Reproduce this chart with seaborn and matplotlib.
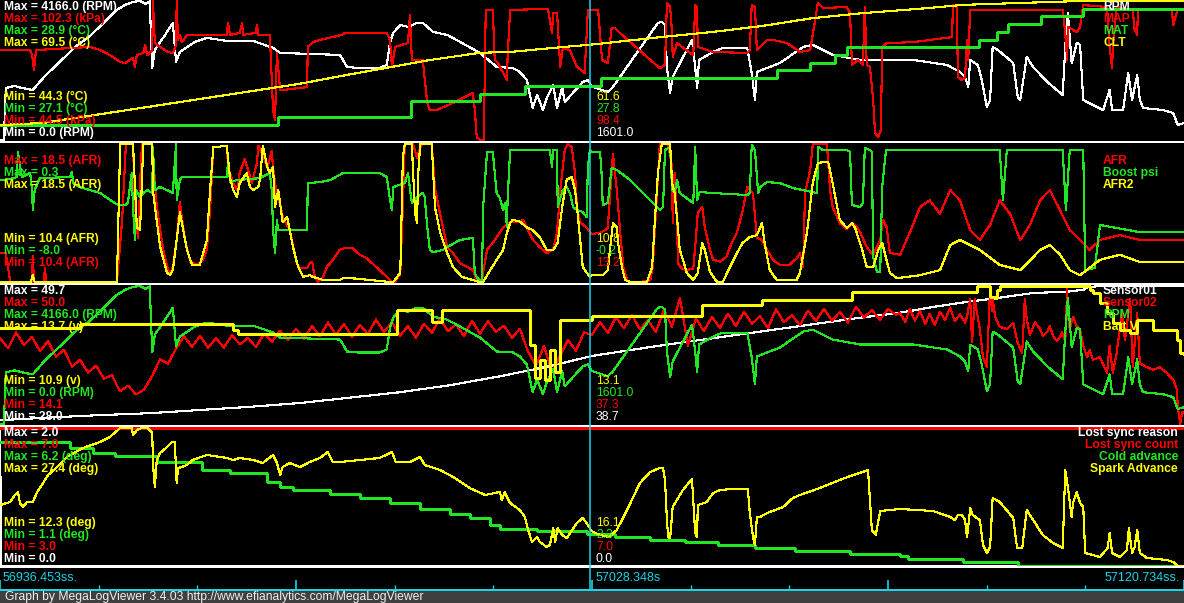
import numpy as np
import matplotlib
matplotlib.use("Agg")
import matplotlib.pyplot as plt
from matplotlib.lines import Line2D
import seaborn as sns

# ---------------------------------------------------------------- time span
T_START = 56936.453
T_END = 57120.734
T_CURSOR = 57028.348
DUR = T_END - T_START

# ---------------------------------------------------------------- panel 1
rpm_t = [0.0, 0.6, 0.9, 2.3, 3.4, 5.1, 7.0, 9.3, 11.7, 14.0, 16.3, 18.2, 19.5, 20.7, 21.8, 22.7, 23.3, 23.7,
         24.1, 25.7, 26.9, 27.4, 28.0, 30.3, 32.2, 35.3, 39.4, 42.5, 43.6, 52.9, 53.2, 54.0, 55.6, 59.1, 60.2,
         60.7, 61.2, 62.3, 63.5, 64.9, 65.8, 67.4, 69.6, 71.6, 74.7, 77.3, 79.8, 80.9, 82.0, 82.9, 83.6, 84.5,
         85.1, 86.1, 86.7, 87.5, 87.9, 90.7, 91.5, 92.1, 94.6, 95.4, 102.4, 103.0, 103.5, 103.8, 104.3, 104.7,
         107.7, 108.2, 108.5, 108.8, 111.0, 112.5, 116.3, 117.0, 117.5, 117.8, 121.4, 125.0, 126.5, 129.6,
         133.9, 142.1, 147.4, 149.4, 150.2, 150.7, 151.0, 152.2, 152.8, 153.6, 154.1, 154.5, 155.3, 157.7,
         158.4, 158.8, 159.8, 160.8, 163.0, 165.4, 165.8, 166.2, 166.8, 167.6, 168.1, 168.6, 170.7, 171.7,
         172.7, 173.1, 174.8, 175.6, 176.2, 177.0, 177.4, 177.9, 181.0, 182.6, 183.3, 184.3]
rpm_v = [0, 0, 1560, 1620, 1560, 1500, 1920, 2340, 2790, 3120, 3540, 3900, 4050, 4140, 4166, 4080, 4160, 2160,
         2700, 3150, 3510, 2340, 2640, 2940, 3060, 2970, 2970, 2760, 2610, 2550, 2460, 2190, 2160, 2160, 2250,
         2910, 3210, 3450, 3390, 3510, 3510, 3240, 3150, 2940, 2610, 2190, 2160, 2040, 1800, 960, 1350, 900,
         1260, 1650, 960, 1590, 1140, 1740, 1800, 1601, 1440, 1590, 3510, 3540, 3450, 2190, 1410, 1890,
         3000, 2190, 1560, 2400, 2640, 2760, 2760, 2010, 1200, 2040, 2310, 2790, 2850, 2550,
         2400, 2400, 2250, 2040, 1890, 1590, 2400, 2250, 1800, 990, 1200, 2790, 2700, 2310,
         1290, 1200, 2490, 2190, 1740, 1350, 2790, 3810, 2310, 2910, 2850, 1200, 990, 900,
         1500, 900, 900, 2010, 1200, 1950, 1200, 960, 900, 810, 450, 510]

map_t = [0.0, 4.7, 5.0, 5.3, 5.6, 14.0, 15.6, 17.1, 18.7, 19.5, 20.7, 21.0, 21.3, 22.3, 22.6, 22.9, 23.7, 23.8,
         24.1, 24.9, 26.1, 26.9, 27.4, 27.5, 27.7, 28.0, 28.3, 29.1, 35.3, 35.5, 35.8, 37.3, 37.7, 37.8, 39.8,
         40.0, 40.2, 42.0, 42.5, 42.8, 43.1, 43.6, 44.0, 47.8, 47.9, 48.7, 49.8, 53.2, 53.7, 60.2, 60.7, 61.0,
         61.5, 63.5, 63.8, 64.1, 65.8, 66.5, 66.9, 68.0, 70.5, 73.6, 73.9, 74.2, 74.7, 75.3, 75.6, 76.7, 77.0,
         77.5, 78.9, 79.0, 79.4, 85.3, 85.9, 86.1, 86.7, 87.2, 87.6, 88.7, 89.8, 91.0, 91.5, 93.1, 93.7, 94.6,
         95.2, 95.7, 96.5, 100.7, 102.7, 103.5, 103.8, 104.3, 104.6, 104.7, 105.4, 107.4, 107.9, 108.2, 108.5,
         108.6, 111.0, 116.3, 116.7, 117.0, 117.5, 117.8, 119.4, 120.3, 122.5, 124.5, 126.1, 127.3, 128.1,
         131.8, 132.3, 132.6, 133.5, 134.3, 134.6, 134.9, 135.4, 135.9, 136.2, 136.7, 137.1, 137.3, 138.0,
         142.1, 144.7, 148.2, 148.3, 148.9, 149.1, 149.7, 150.2, 150.5, 150.7, 151.0, 165.4, 165.8, 166.1,
         166.2, 167.6, 168.1, 168.6, 172.3, 172.7, 173.1, 173.2, 173.8, 176.3, 176.6, 177.0, 177.1, 182.4,
         182.6, 182.9, 183.3, 184.3]
map_v = [81.9, 81.9, 79.8, 73.6, 81.9, 83.2, 81.9, 79.8, 76.9, 76.5, 78.6, 74.9, 79.8, 80.7, 84.0, 79.8, 81.9, 102.3,
         84.8, 83.2, 81.1, 80.7, 84.0, 102.3, 86.1, 88.2, 85.2, 88.2, 88.2, 93.1, 88.2, 89.0, 93.1, 88.2, 89.0,
         92.3, 88.2, 88.2, 57.0, 52.8, 80.7, 65.3, 65.3, 66.5, 83.2, 85.2, 86.1, 88.2, 89.0, 89.0, 86.1, 74.9,
         83.2, 84.8, 96.5, 77.8, 77.8, 59.9, 57.0, 57.0, 59.9, 64.0, 57.0, 45.7, 44.5, 44.5, 98.6, 98.6, 77.8,
         76.5, 69.4, 78.6, 98.6, 99.0, 89.0, 97.3, 97.3, 74.9, 82.8, 81.9, 74.9, 72.4, 98.4, 98.4, 77.8, 76.5,
         91.1, 91.1, 89.0, 79.0, 74.4, 75.7, 101.5, 99.8, 89.0, 79.0, 84.8, 80.7, 79.8, 100.6, 99.8,
         83.2, 81.1, 80.7, 81.9, 100.6, 99.8, 81.9, 86.1, 86.1, 84.8, 81.1, 81.9, 101.5, 99.4,
         99.8, 97.3, 75.7, 77.8, 75.7, 99.8, 75.7, 74.9, 61.1, 47.4, 45.7, 48.7, 83.2, 84.8,
         85.2, 86.1, 87.3, 100.6, 99.8, 70.7, 69.4, 70.3, 86.1, 77.8, 98.6, 98.6, 89.0, 77.8,
         91.5, 89.4, 91.5, 100.6, 99.8, 83.2, 74.4, 83.2, 99.8, 98.6, 90.2, 88.2, 98.6, 98.6,
         92.3, 95.2, 98.6, 98.6]

mat_t = [0.0, 43.3, 64.0, 74.7, 81.7, 93.5, 120.9, 126.1, 130.0, 131.8, 152.4, 155.2, 156.9, 162.0, 168.6, 184.3]
mat_v = [27.3, 27.4, 27.6, 27.7, 27.8, 27.9, 28.0, 28.1, 28.2, 28.3, 28.4, 28.5, 28.6, 28.7, 28.8, 28.8]

clt_t = [0.0, 6.7, 46.7, 54.0, 60.7, 66.9, 74.7, 79.8, 86.1, 92.1, 103.2, 111.0, 118.8, 126.5, 134.3, 143.2,
         149.9, 157.7, 168.1, 184.3]
clt_v = [47.0, 47.4, 54.5, 56.1, 57.5, 58.8, 60.1, 60.3, 61.0, 61.6, 63.0, 63.9, 65.0, 66.4, 67.3, 68.1,
         68.8, 69.1, 69.5, 69.5]

# ---------------------------------------------------------------- panel 2
afr_t = [0.0, 0.9, 1.6, 5.0, 5.1, 5.3, 6.8, 7.0, 7.2, 18.2, 19.0, 19.6, 20.7, 21.0, 21.3, 21.5, 21.9, 22.1, 23.7,
         24.4, 25.4, 26.0, 26.5, 26.9, 27.5, 28.0, 28.3, 28.8, 29.6, 30.7, 31.6, 32.2, 32.7, 33.2, 35.3, 35.5,
         36.3, 36.9, 37.3, 38.1, 38.6, 39.2, 40.0, 40.2, 40.9, 41.6, 42.3, 42.5, 43.1, 43.6, 44.0, 45.1, 46.2,
         46.7, 47.8, 48.2, 48.6, 48.7, 49.0, 49.5, 50.3, 50.9, 51.8, 52.9, 53.7, 54.8, 56.0, 57.1, 57.9, 59.1,
         60.2, 61.0, 61.5, 62.3, 62.7, 63.0, 64.3, 64.9, 65.4, 65.8, 67.2, 67.7, 68.5, 69.6, 70.5, 71.6, 72.7,
         73.6, 74.2, 74.7, 75.0, 75.8, 76.7, 77.8, 78.3, 79.4, 80.5, 81.4, 82.0, 82.9, 84.0, 85.1, 86.1, 86.7,
         87.2, 87.9, 88.4, 89.0, 89.5, 89.8, 90.3, 91.3, 92.1, 93.4, 94.2, 94.6, 95.4, 96.0, 96.5, 97.0, 97.6,
         98.1, 99.6, 101.2, 101.6, 102.7, 104.0, 104.6, 104.7, 105.0, 105.4, 105.5, 106.1, 106.9, 107.9,
         108.2, 108.6, 109.3, 109.7, 110.5, 111.0, 112.1, 113.1, 113.6, 114.7, 115.6, 116.3, 117.2, 117.8,
         118.6, 119.4, 120.3, 121.4, 122.9, 124.0, 124.5, 125.0, 125.3, 126.1, 126.5, 128.7, 129.2, 129.6,
         130.3, 130.7, 131.8, 132.8, 133.4, 133.9, 134.9, 135.9, 137.0, 137.4, 138.0, 138.5, 140.1, 141.6,
         143.2, 144.7, 146.3, 147.9, 149.4, 151.0, 152.5, 154.1, 155.6, 157.2, 158.8, 160.3, 161.9, 163.4,
         165.0, 166.5, 168.1, 169.6, 171.2, 174.3, 177.4, 184.3]
afr_v = [12.1, 12.1, 10.4, 10.4, 11.9, 10.4, 10.4, 11.2, 10.4, 10.4, 14.0, 18.5, 18.5, 15.0, 13.6, 13.0, 17.0, 18.5, 18.5,
         14.8, 12.3, 11.3, 10.8, 11.3, 12.9, 15.1, 14.2, 12.9, 11.6, 11.4, 11.7, 12.3, 14.6, 18.3, 18.4, 17.1,
         16.2, 15.8, 16.8, 17.6, 17.0, 16.2, 17.4, 18.4, 17.9, 17.1, 18.1, 17.1, 15.4, 15.0, 14.2, 13.45, 11.5,
         11.2, 11.2, 11.5, 11.6, 11.3, 10.7, 10.4, 10.7, 11.3, 11.7, 12.3, 12.4, 12.4, 12.0, 11.8, 11.5, 11.1,
         10.7, 10.4, 10.4, 10.9, 14.8, 18.5, 18.5, 17.7, 18.3, 18.5, 18.5, 15.9, 14.4, 12.45, 12.1, 11.5, 11.3,
         11.1, 10.5, 10.4, 10.5, 12.3, 12.7, 13.3, 13.6, 13.9, 13.9, 14.05, 13.6, 12.9, 12.45, 12.1, 12.3, 13.3,
         15.8, 18.15, 18.5, 18.3, 16.8, 14.8, 13.9, 13.6, 13.2, 13.3, 13.45, 13.6, 17.9, 15.8, 13.45, 11.3, 10.5,
         10.4, 10.4, 10.5, 11.3, 18.5, 18.5, 17.15, 13.86, 16.8, 13.86, 11.5, 11.2, 11.1, 11.2,
         12.45, 14.45, 14.8, 13.6, 12.28, 11.7, 11.6, 11.9, 12.45, 13.3, 14.6, 15.98, 15.62, 13.0,
         12.87, 12.28, 11.7, 11.4, 11.4, 11.8, 12.1, 11.28, 15.62, 16.97, 18.5, 18.5, 15.8, 14.8,
         14.2, 13.86, 13.5, 13.86, 13.6, 13.3, 12.45, 11.97, 12.87, 14.05, 13.6, 12.1, 12.0, 13.3,
         14.8, 15.2, 14.4, 15.8, 15.2, 13.45, 12.87, 13.75, 15.2, 14.4, 12.87, 13.75, 15.2, 15.8,
         14.6, 13.45, 12.87, 12.28, 12.87, 13.15, 12.87, 12.87]

afr2_t = [0.0, 4.8, 5.1, 5.4, 18.2, 18.7, 20.7, 21.3, 21.8, 22.3, 23.7, 23.8, 24.9, 26.0, 26.5, 26.9, 27.5, 28.0,
          29.1, 29.9, 31.1, 32.2, 32.7, 33.2, 35.3, 35.8, 36.3, 36.9, 37.3, 38.4, 38.9, 39.4, 40.2, 40.5, 40.9,
          41.6, 42.0, 42.5, 42.8, 43.3, 44.0, 44.7, 45.6, 46.4, 47.2, 48.2, 48.7, 50.3, 52.9, 53.4, 54.5, 60.7,
          61.2, 62.3, 62.7, 63.0, 64.1, 64.3, 64.6, 64.9, 65.1, 65.4, 67.2, 67.7, 68.5, 69.6, 70.5, 71.9, 73.6,
          74.7, 75.2, 76.3, 77.3, 78.3, 78.9, 79.4, 79.8, 80.9, 82.0, 82.9, 84.0, 85.1, 86.1, 86.8, 87.5, 88.2,
          89.0, 89.5, 89.9, 90.7, 91.8, 92.1, 93.8, 94.6, 95.4, 96.0, 96.2, 96.8, 97.3, 98.1, 100.7, 101.5,
          101.9, 102.4, 103.0, 104.3, 104.6, 105.0, 105.4, 105.8, 106.3, 106.9, 107.9, 108.6, 109.3, 109.7,
          110.5, 111.6, 112.5, 113.6, 114.7, 115.6, 116.7, 117.8, 118.6, 119.0, 119.8, 120.9, 124.0, 124.5,
          125.6, 126.5, 127.3, 128.9, 129.6, 130.3, 130.7, 131.8, 132.6, 133.1, 134.2, 134.9, 135.9, 136.7,
          137.3, 137.7, 138.5, 139.6, 143.2, 146.3, 147.9, 149.4, 152.5, 155.6, 158.8, 161.9, 163.4, 165.0,
          166.5, 168.1, 171.2, 174.3, 177.4, 184.3]
afr2_v = [10.4, 10.4, 10.8, 10.4, 10.4, 18.5, 18.5, 13.6, 13.45, 18.5, 18.5, 15.8, 12.5, 10.93, 10.8, 11.1, 12.87, 14.5,
          12.28, 11.4, 11.4, 12.87, 15.8, 18.3, 18.4, 16.5, 15.8, 15.4, 16.2, 16.8, 15.98, 15.8, 15.98, 16.5, 18.4,
          17.15, 16.8, 17.15, 14.8, 15.8, 13.9, 14.2, 12.45, 11.28, 10.7, 10.8, 10.7, 10.52, 10.52, 10.63, 10.63, 10.4,
          10.4, 10.93, 17.7, 18.5, 18.5, 16.8, 14.45, 13.86, 16.8, 18.5, 18.5, 14.8, 13.3, 12.1, 11.28, 10.7, 10.52,
          10.4, 10.4, 11.1, 11.7, 12.28, 13.3, 13.86, 14.05, 13.95, 13.6, 13.45, 13.04, 12.28, 12.28, 12.7, 14.8, 16.4,
          16.56, 15.8, 14.45, 11.28, 10.7, 10.8, 10.8, 11.1, 13.86, 13.6, 12.7, 11.28, 10.52, 10.4, 10.4, 11.28,
          13.86, 16.8, 18.5, 18.5, 16.2, 15.62, 14.05, 12.28, 11.7, 10.93, 10.52, 10.93, 12.7, 12.28,
          11.0, 10.4, 10.4, 11.28, 12.1, 12.7, 13.04, 13.15, 13.86, 12.7, 11.1, 10.52, 10.52, 10.93,
          13.3, 16.2, 17.4, 17.45, 16.2, 14.8, 14.05, 13.57, 13.86, 13.57, 12.28, 11.28, 11.28, 12.28,
          12.7, 12.1, 10.93, 10.63, 10.8, 11.1, 12.57, 12.87, 12.28, 11.4, 11.1, 12.28, 12.57, 12.0,
          11.1, 10.8, 11.7, 12.0, 11.57, 11.57]

boost_t = [0.0, 1.6, 2.6, 2.8, 3.1, 3.4, 4.7, 5.0, 5.1, 5.4, 6.2, 10.9, 11.2, 11.4, 12.4, 15.6, 17.6, 18.4, 19.5,
           19.9, 20.5, 20.7, 21.0, 21.2, 21.8, 22.3, 22.9, 23.7, 23.8, 24.1, 24.9, 26.0, 26.9, 27.4, 27.5, 28.0,
           28.3, 35.3, 35.5, 35.8, 36.9, 40.5, 42.0, 42.3, 42.5, 42.8, 43.1, 43.3, 47.8, 47.9, 49.8, 51.4, 53.4,
           59.1, 60.2, 60.7, 61.0, 61.2, 63.0, 63.5, 64.1, 64.9, 65.8, 66.1, 66.5, 66.9, 67.4, 68.9, 69.6, 71.6,
           73.6, 73.9, 74.2, 75.0, 75.2, 75.8, 76.7, 77.3, 77.8, 78.3, 78.6, 78.9, 79.0, 79.4, 85.6, 85.9, 86.1,
           86.7, 86.8, 87.6, 88.2, 88.7, 89.2, 89.8, 90.7, 91.3, 91.5, 91.8, 92.1, 93.4, 93.7, 93.8, 94.6, 95.2,
           96.0, 98.1, 100.7, 102.7, 103.2, 103.5, 104.3, 104.6, 105.0, 105.4, 105.8, 107.9, 108.2, 108.5,
           108.9, 111.0, 116.3, 116.7, 117.0, 117.5, 118.0, 118.3, 119.4, 121.4, 123.4, 126.5, 127.2, 127.3,
           128.1, 131.8, 132.3, 132.6, 133.9, 134.3, 134.6, 135.4, 135.7, 135.9, 136.5, 137.0, 137.3, 137.9,
           155.6, 156.1, 156.7, 165.4, 165.9, 166.5, 168.6, 168.9, 170.4, 171.2, 177.4, 184.3]
boost_v = [-1.87, -1.81, -1.69, -0.18, -0.97, -1.69, -1.44, -2.47, -3.67, -2.47, -1.75, -1.69, -1.38, -2.05, -2.29,
           -2.65, -3.19, -3.37, -3.37, -3.25, -1.44, -3.49, -5.47, -2.47, -2.89, -2.65, -2.47, -2.65, 0.12, -2.47,
           -2.29, -2.47, -2.65, 0.3, -3.07, -1.87, -1.69, -1.69, -0.66, -1.99, -1.87, -1.75, -1.44, -2.47, -4.87,
           -6.26, -4.27, -4.87, -4.87, -2.05, -1.99, -1.87, -1.44, -1.44, -1.69, -3.07, -3.67, -2.29, -2.05, -1.44,
           -3.25, -2.89, -2.65, -2.89, -4.69, -6.08, -6.2, -6.08, -5.9, -5.47, -5.35, -7.46, -7.7, -8.0, -3.49,
           -0.18, -0.18, -2.65, -2.95, -3.67, -3.25, -4.69, -3.07, -0.06, -0.06, -1.08, -0.06, -0.06, -3.49, -2.47,
           -2.29, -2.65, -3.49, -3.67, -3.79, -4.09, -1.08, -0.06, -0.2, -0.18, -1.87, -3.37, -3.25, -1.14, -1.26,
           -1.87, -2.89, -3.67, -3.49, -0.06, 0.12, -2.47, -2.59, -1.87, -2.65, -3.25, 0.12, -3.07, -2.59, -2.65,
           -2.77, -2.65, 0.24, -0.06, -2.65, -2.29, -1.99, -2.05, -2.35, -2.59, -2.65, 0.12, -0.06, -0.06, -0.18,
           -3.37, -3.49, -3.25, 0.06, -0.06, -0.18, -6.5, -7.4, -7.4, -2.29, -0.06, -0.06, -3.07, -0.06, -0.06,
           -3.67, -0.06, -0.06, -7.28, -7.16, -4.57, -5.0, -5.0]

# ---------------------------------------------------------------- panel 3
s1_t = [0.0, 9.3, 15.6, 23.3, 31.1, 38.9, 46.7, 62.3, 70.0, 77.8, 85.6, 92.1, 101.2, 108.9, 116.7, 124.5, 132.3,
        140.1, 145.2, 150.5, 155.2, 160.8, 166.1, 168.6, 169.3, 171.2, 184.3]
s1_v = [28.6, 29.1, 29.4, 29.7, 30.2, 30.7, 31.3, 33.0, 34.1, 35.5, 37.1, 38.7, 40.1, 41.2, 42.3, 43.4, 44.5,
        45.5, 46.4, 47.2, 47.8, 48.6, 48.8, 49.1, 49.5, 49.7, 49.7]

# Sensor02, first part logged at a steady 1.245 s interval
s2_dt = 1.245
s2_head_v = [36.5, 33.8, 37.9, 34.6, 36.8, 33.0, 35.7, 31.6, 33.4, 29.0, 30.8, 27.5, 29.3, 25.9, 26.8, 22.6, 24.1,
             21.8, 23.0, 26.5, 30.9, 29.8, 33.7, 36.9, 34.2, 37.0, 33.9, 36.4, 34.0, 37.2, 34.8, 36.5, 34.1, 37.6,
             35.5, 38.4, 36.0, 38.9, 36.3, 39.6, 36.9, 40.5, 37.4, 40.1, 36.8, 39.9, 37.5, 41.3, 38.0, 40.6, 37.1,
             39.5, 36.6, 40.2, 37.8, 41.6, 38.2, 40.0, 37.0, 41.0, 37.6, 40.8, 38.1, 39.7, 36.5, 38.9, 33.0, 29.2,
             34.5, 27.6, 31.8, 35.9, 33.2, 37.9, 37.3, 40.6, 37.8, 41.9, 39.0, 42.5, 38.7, 41.2, 38.0, 43.8, 39.4,
             46.9, 34.5, 41.5, 38.3, 42.0, 39.1, 42.8, 39.6, 43.3, 40.2, 42.1, 39.0, 43.9, 40.6, 42.4, 39.8, 43.6,
             40.9, 44.1, 41.0, 43.2, 40.5, 44.6, 41.8, 43.7, 41.2, 44.0, 42.5]
s2_tail_t = [140.1, 140.9, 141.6, 142.4, 143.2, 144.0, 144.7, 145.5, 146.3, 147.1, 147.9, 148.6, 149.4, 150.2,
             150.5, 151.0, 151.3, 151.7, 152.5, 153.0, 153.6, 154.1, 154.4, 154.5, 154.9, 155.3, 155.6, 156.7,
             157.7, 158.4, 159.1, 159.5, 159.8, 160.3, 160.8, 161.1, 161.9, 162.3, 163.0, 163.4, 163.9, 164.5,
             165.0, 165.3, 165.8, 166.1, 166.2, 166.5, 167.0, 167.6, 168.1, 168.6, 169.2, 169.6, 170.1, 171.2,
             172.3, 172.7, 173.2, 173.8, 174.6, 175.1, 175.9, 176.3, 177.0, 177.4, 178.5, 179.5, 180.5, 181.6,
             182.6, 183.2, 183.3, 183.7, 184.0, 184.3]
s2_tail_v = [43.0, 40.6, 44.1, 41.0, 43.6, 40.2, 42.8, 39.9, 43.3, 41.2, 44.4, 40.8, 42.6, 40.5,
             42.0, 46.6, 35.3, 46.6, 38.8, 31.5, 28.9, 49.7, 43.5, 46.6, 42.0, 40.4, 39.4, 38.8,
             40.4, 35.2, 32.6, 46.6, 41.4, 37.2, 39.4, 40.5, 38.8, 37.0, 38.1, 39.5, 37.1, 35.6,
             36.8, 38.0, 35.5, 49.7, 43.0, 38.8, 42.0, 39.4, 38.8, 34.4, 31.5, 33.4, 30.8, 31.5,
             27.4, 34.4, 27.4, 32.6, 43.0, 36.0, 46.6, 28.9, 43.0, 29.9, 28.9, 28.2, 28.9, 27.4,
             25.6, 23.0, 18.6, 14.1, 17.2, 17.0]

batt_t = [0.0, 12.4, 36.3, 37.0, 61.5, 61.8, 66.9, 67.2, 68.5, 68.8, 81.7, 82.5, 83.3, 84.0, 84.8, 85.6, 86.4,
          87.2, 92.1, 108.9, 109.3, 118.3, 118.6, 132.3, 132.6, 151.7, 152.0, 153.8, 154.1, 154.9, 155.2, 155.6,
          169.2, 169.6, 170.1, 171.2, 172.3, 173.2, 174.3, 175.9, 177.0, 179.0, 179.5, 182.6, 183.2, 183.7, 184.3]
batt_v = [12.85, 12.93, 12.81, 12.73, 12.73, 13.21, 13.21, 12.97, 12.97, 13.21, 13.21, 12.5, 11.83, 12.2, 11.79,
          12.4, 11.96, 13.01, 13.1, 13.1, 13.31, 13.31, 13.42, 13.42, 13.58, 13.58, 13.7, 13.7, 13.48, 13.46,
          13.62, 13.7, 13.7, 13.62, 13.56, 13.36, 13.15, 12.95, 12.81, 12.75, 13.01, 13.01, 12.81, 12.81, 12.6,
          12.34, 12.3]

# ---------------------------------------------------------------- panel 4
reason_t = [0.0, 0.2, 184.3]
reason_v = [2.0, 0.0, 0.0]
count_t = [0.0, 184.3]
count_v = [7.0, 7.0]

cold_t = [0.0, 10.9, 14.5, 17.9, 24.4, 31.4, 35.8, 41.6, 43.6, 45.6, 51.4, 56.0, 60.7, 65.4, 70.0, 73.1, 76.3,
          77.8, 83.6, 91.3, 95.7, 101.2, 106.6, 111.8, 117.5, 123.7, 132.3, 140.1, 141.3, 149.9, 158.4, 184.3]
cold_v = [5.68, 5.46, 5.28, 5.17, 4.94, 4.65, 4.54, 4.2, 4.02, 3.91, 3.76, 3.61, 3.43, 3.21, 3.02, 2.87, 2.62,
          2.47, 2.39, 2.28, 2.17, 2.06, 1.99, 1.88, 1.77, 1.65, 1.56, 1.47, 1.36, 1.25, 1.1, 1.1]

spark_t = [0.0, 1.6, 2.3, 2.8, 3.1, 3.6, 4.2, 5.1, 5.8, 6.7, 7.5, 8.9, 10.4, 12.9, 15.6, 17.1, 18.7, 19.8, 20.5,
           20.7, 21.3, 22.1, 23.0, 23.7, 23.8, 24.1, 24.4, 24.9, 26.0, 26.8, 27.2, 27.5, 27.7, 28.3, 29.1, 30.0,
           32.2, 34.2, 35.3, 36.3, 37.3, 39.4, 40.9, 42.5, 43.1, 43.6, 44.0, 45.1, 46.7, 48.2, 49.8, 51.0, 51.8,
           52.9, 56.0, 59.1, 61.0, 61.6, 63.8, 65.4, 66.1, 68.5, 70.8, 73.1, 75.5, 77.8, 78.1, 78.6, 78.9, 79.4,
           80.9, 81.7, 82.2, 82.8, 83.6, 84.0, 85.1, 85.6, 86.1, 86.4, 86.8, 87.5, 88.2, 89.8, 90.7, 91.3, 92.1,
           93.4, 94.9, 96.0, 97.6, 99.6, 101.2, 102.7, 103.2, 103.5, 103.8, 104.0, 104.3, 104.7, 106.3, 107.7,
           108.2, 108.5, 108.6, 110.0, 111.0, 112.1, 114.1, 116.4, 116.7, 117.2, 117.5, 117.8, 118.3, 119.4,
           121.9, 123.4, 124.5, 127.6, 131.5, 134.2, 135.1, 135.7, 136.3, 137.0, 140.1, 145.2, 147.9, 148.6,
           149.1, 149.7, 150.2, 150.5, 150.7, 151.0, 151.4, 152.5, 153.0, 153.6, 154.1, 154.5, 155.6, 157.7,
           158.3, 159.1, 159.8, 160.8, 162.3, 163.9, 165.4, 165.8, 166.2, 166.8, 167.0, 167.6, 168.1, 168.6,
           168.9, 170.1, 171.2, 172.4, 172.7, 173.1, 174.3, 175.4, 175.7, 176.2, 176.6, 177.0, 177.4, 178.5,
           181.6, 182.6, 183.3, 184.3]
spark_v = [18.97, 19.3, 20.07, 20.4, 19.19, 18.76, 19.3, 19.3, 20.4, 21.38, 22.26, 23.13, 24.23, 25.21, 25.87,
           26.42, 27.4, 27.4, 27.4, 26.63, 27.18, 27.4, 27.4, 26.85, 23.57, 20.94, 23.9, 24.66, 25.32, 25.87,
           25.87, 21.38, 23.02, 23.13, 23.35, 23.9, 24.45, 24.23, 24.12, 23.9, 24.12, 23.9, 23.57, 24.45, 23.57,
           22.26, 23.13, 23.57, 23.13, 23.68, 24.12, 24.77, 23.68, 23.68, 23.9, 24.12, 24.77, 23.68, 23.68, 24.23,
           23.35, 22.8, 21.93, 20.83, 20.07, 20.4, 19.52, 20.4, 19.85, 19.19, 18.43, 17.66, 16.24, 14.93, 15.47,
           14.93, 14.38, 14.6, 16.46, 14.93, 16.46, 15.69, 15.36, 17.01, 17.55, 17.01, 16.1, 15.69, 15.47, 16.24,
           18.43, 21.38, 22.59, 23.02, 23.02, 21.71, 17.33, 15.47, 15.36, 18.76, 20.62, 21.82, 15.91, 15.47,
           18.97, 19.3, 20.29, 20.62, 20.73, 20.73, 18.1, 15.47, 14.6, 17.66, 17.66, 18.1, 18.76, 19.74, 20.07,
           20.83, 21.93, 22.59, 22.8, 16.24, 15.69, 18.32, 18.54, 18.32, 17.66, 17.33, 17.88, 17.88, 17.33,
           15.47, 16.57, 18.65, 17.88, 17.33, 14.6, 13.72, 14.38, 19.74, 19.3, 17.55, 14.27, 14.27, 18.43,
           17.33, 15.69, 14.82, 14.27, 22.8, 20.94, 17.66, 19.19, 20.4, 19.19, 18.76, 13.72, 13.5, 13.28,
           14.27, 15.91, 13.72, 13.28, 14.05, 16.46, 13.72, 14.38, 16.24, 13.72, 13.18, 12.96, 12.74, 12.3, 12.3]

# ---------------------------------------------------------------- labels
p1_names = ["RPM", "MAP", "MAT", "CLT"]
p1_units = [" (RPM)", " (kPa)", " (\u00b0C)", " (\u00b0C)"]
p1_min = [0.0, 44.5, 27.1, 44.3]
p1_max = [4166.0, 102.3, 28.9, 69.5]
p1_cursor = [1601.0, 98.4, 27.8, 61.6]

p2_names = ["AFR", "Boost psi", "AFR2"]
p2_units = [" (AFR)", "", " (AFR)"]
p2_min = [10.4, -8.0, 10.4]
p2_max = [18.5, 0.3, 18.5]
p2_cursor = [13.2, -0.2, 10.8]

p3_names = ["Sensor01", "Sensor02", "RPM", "Batt V"]
p3_units = ["", "", " (RPM)", " (v)"]
p3_min = [28.0, 14.1, 0.0, 10.9]
p3_max = [49.7, 50.0, 4166.0, 13.7]
p3_cursor = [38.7, 37.3, 1601.0, 13.1]

p4_names = ["Lost sync reason", "Lost sync count", "Cold advance", "Spark Advance"]
p4_units = ["", "", " (deg)", " (deg)"]
p4_min = [0.0, 3.0, 1.1, 12.3]
p4_max = [2.0, 7.0, 6.2, 27.4]
p4_cursor = [0.0, 7.0, 2.3, 16.1]

footer_text = "Graph by MegaLogViewer 3.4.03 http://www.efianalytics.com/MegaLogViewer"

# ---------------------------------------------------------------- style
WHITE, RED, GREEN, YELLOW = "#ffffff", "#ff0000", "#22e622", "#ffff00"
CYAN = "#1ad4e8"
FOOT = "#404040"

sns.set_theme(style="dark", rc={"figure.facecolor": "black", "axes.facecolor": "black",
                                "savefig.facecolor": "black"})
plt.rcParams["font.family"] = ["Liberation Sans", "DejaVu Sans"]

W, H = 1184, 603
fig = plt.figure(figsize=(W / 100, H / 100), dpi=100)


def ftxt(px, py, s, color, ha="left", bold=True, size=8.7):
    fig.text(px / W, 1 - py / H, s, color=color, ha=ha, va="center", fontsize=size,
             fontweight="bold" if bold else "normal")


s2_t = list(np.arange(len(s2_head_v)) * s2_dt) + s2_tail_t
s2_v = s2_head_v + s2_tail_v

panels = [
    dict(band=(0, 141), data=(1, 140), names=p1_names, units=p1_units, mins=p1_min, maxs=p1_max,
         cur=p1_cursor, colors=[WHITE, RED, GREEN, YELLOW], name_x=1103, name_ha="left",
         series=[(rpm_t, rpm_v, False), (map_t, map_v, False), (mat_t, mat_v, True), (clt_t, clt_v, False)]),
    dict(band=(142, 283), data=(144, 282), names=p2_names, units=p2_units, mins=p2_min, maxs=p2_max,
         cur=p2_cursor, colors=[RED, GREEN, YELLOW], name_x=1103, name_ha="left",
         series=[(afr_t, afr_v, False), (boost_t, boost_v, False), (afr2_t, afr2_v, False)]),
    dict(band=(284, 425), data=(286, 424), names=p3_names, units=p3_units, mins=p3_min, maxs=p3_max,
         cur=p3_cursor, colors=[WHITE, RED, GREEN, YELLOW], name_x=1103, name_ha="left",
         series=[(s1_t, s1_v, False), (s2_t, s2_v, False), (rpm_t, rpm_v, False), (batt_t, batt_v, True)]),
    dict(band=(426, 567), data=(428, 566), names=p4_names, units=p4_units, mins=p4_min, maxs=p4_max,
         cur=p4_cursor, colors=[WHITE, RED, GREEN, YELLOW], name_x=1178, name_ha="right",
         series=[(reason_t, reason_v, False), (count_t, count_v, False), (cold_t, cold_v, True),
                 (spark_t, spark_v, False)]),
]

for p in panels:
    top, bot = p["band"]
    y_top, y_bot = p["data"]
    h = y_bot - y_top
    ax = fig.add_axes([0, 1 - bot / H, 1, (bot - top) / H])
    ax.set_facecolor("none")
    for (t, v, step), lo, hi, c in zip(p["series"], p["mins"], p["maxs"], p["colors"]):
        norm = (np.asarray(v, dtype=float) - lo) / (hi - lo)
        sns.lineplot(x=np.asarray(t, dtype=float), y=norm, ax=ax, color=c, lw=1.0 if step else 0.8,
                     estimator=None, sort=False, drawstyle="steps-post" if step else "default",
                     antialiased=False)
    ax.set_xlim(0, DUR)
    ax.set_ylim(-(bot - y_bot) / h, 1 + (y_top - top) / h)
    ax.axis("off")

    n = len(p["names"])
    for i in range(n):
        unit = p["units"][i]
        ftxt(4, top + 7 + 12 * (4 - n + i), f"Max = {p['maxs'][i]:.1f}{unit}", p["colors"][i])
        ftxt(p["name_x"], top + 7 + 12 * (4 - n + i), p["names"][i], p["colors"][i], ha=p["name_ha"])
        j = n - 1 - i
        ftxt(4, top + 97 + 12 * i, f"Min = {p['mins'][j]:.1f}{p['units'][j]}", p["colors"][j])
        ftxt(596, top + 97 + 12 * i, f"{p['cur'][j]:.1f}", p["colors"][j], bold=False)

# separators between panels
for y in (141.5, 283.5, 425.5, 566.5):
    fig.add_artist(Line2D([0, 1], [1 - y / H, 1 - y / H], color=WHITE, lw=1.44, transform=fig.transFigure))

# time strip
ax_t = fig.add_axes([0, 1 - 590 / H, 1, 23 / H])
ax_t.set_facecolor("none")
ax_t.set_xlim(0, DUR)
ax_t.set_ylim(0, 1)
for s in ("top", "left", "right"):
    ax_t.spines[s].set_visible(False)
ax_t.spines["bottom"].set_color(CYAN)
ax_t.spines["bottom"].set_linewidth(1.44)
ax_t.set_xticks(np.linspace(0, DUR, 5))
ax_t.set_xticks(np.linspace(0, DUR, 13), minor=True)
ax_t.tick_params(which="major", bottom=True, direction="in", length=7.2, width=1.2, color=CYAN,
                 labelbottom=False)
ax_t.tick_params(which="minor", bottom=True, direction="in", length=3.6, width=1.0, color=CYAN)
ax_t.set_yticks([])
ax_t.grid(False)
ftxt(3, 578, f"{T_START:.3f}ss.", CYAN, bold=False, size=9)
ftxt(596, 578, f"{T_CURSOR:.3f}s", CYAN, bold=False, size=9)
ftxt(1180, 578, f"{T_END:.3f}ss.", CYAN, ha="right", bold=False, size=9)

# cursor line over everything
ov = fig.add_axes([0, 1 - 590 / H, 1, 590 / H])
ov.set_zorder(10)
ov.set_facecolor("none")
ov.set_xlim(0, DUR)
ov.axvline(T_CURSOR - T_START, color=CYAN, lw=1.1)
ov.axis("off")

# footer
foot = fig.add_axes([0, 0, 1, 12 / H])
foot.set_facecolor(FOOT)
foot.set_xticks([])
foot.set_yticks([])
for s in foot.spines.values():
    s.set_visible(False)
ftxt(5, 597, footer_text, "#eeeeee", bold=False, size=8.7)

fig.savefig("out.png", dpi=100, facecolor="black")
